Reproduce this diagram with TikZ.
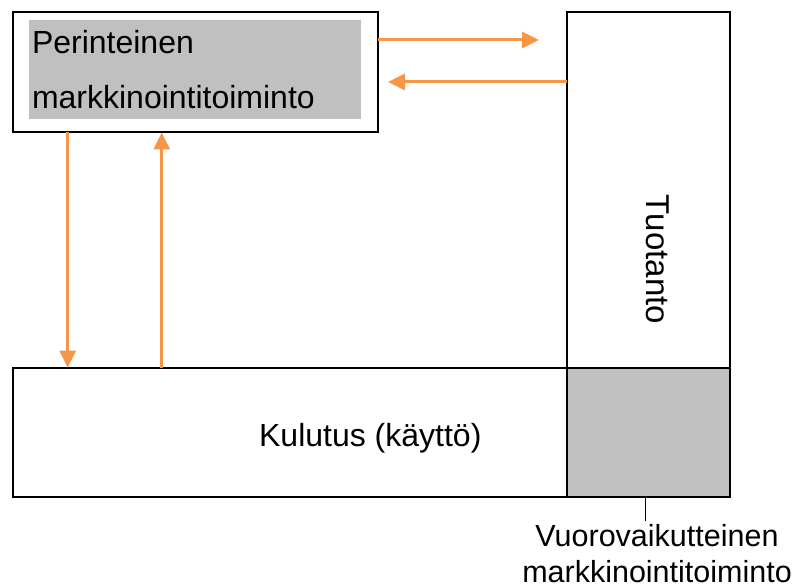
\documentclass[tikz,border=0pt]{standalone}
\usepackage{fontspec}
\setmainfont{Liberation Sans}
\usetikzlibrary{arrows.meta}
\definecolor{oranssi}{HTML}{F79646}
\definecolor{harmaa}{HTML}{C0C0C0}

\begin{document}
\begin{tikzpicture}[x=1pt,y=-1pt,
  laatikko/.style={draw, line width=2pt, rectangle, inner sep=0pt, outer sep=0pt},
  nuoli/.style={draw=oranssi, line width=3pt, -{Triangle[length=17pt,width=16pt]}}]
\fontsize{32}{33}\selectfont
\useasboundingbox (0,0) rectangle (803,588);
\node[laatikko, minimum width=365pt, minimum height=120pt] (perint) at (195,72.5) {};
\node[fill=harmaa, minimum height=99pt, text width=326pt, inner xsep=3pt, inner ysep=0pt, align=left, font=\fontsize{32}{55}\selectfont] (perintxt) at (195,70) {Perinteinen\\markkinointitoiminto};
\node[laatikko, minimum width=162.7pt, minimum height=355.2pt] (tuot) at (648.6,190.1) {};
\node[rotate=-90, anchor=base, font=\fontsize{33}{36}\selectfont] (tuottxt) at (646.7,259.5) {Tuotanto};
\node[laatikko, minimum width=554.8pt, minimum height=129.6pt] (kulu) at (289.9,432.5) {};
\node[anchor=base] (kulutxt) at (370.3,446.7) {Kulutus (käyttö)};
\node[laatikko, fill=harmaa, minimum width=162.7pt, minimum height=129.6pt] (vuoro) at (648.6,432.5) {};
\node[align=center, anchor=north, inner sep=3pt, font=\fontsize{30.5}{36}\selectfont] (vuorolbl) at (657,521) {Vuorovaikutteinen\\markkinointitoiminto};
% nuolet
\coordinate (n1) at (539,40);
\coordinate (n2) at (388,82);
\coordinate (n3) at (67.7,0);
\coordinate (n4) at (161.7,0);
\coordinate (v1) at (645.7,0);
\path[nuoli] (perint.east |- n1) -- (n1);
\path[nuoli] (tuot.west |- n2) -- (n2);
\path[nuoli] (perint.south -| n3) -- (kulu.north -| n3);
\path[nuoli] (kulu.north -| n4) -- (perint.south -| n4);
\path[draw, line width=1pt] (vuoro.south -| v1) -- (vuorolbl.north -| v1);
\end{tikzpicture}
\end{document}
